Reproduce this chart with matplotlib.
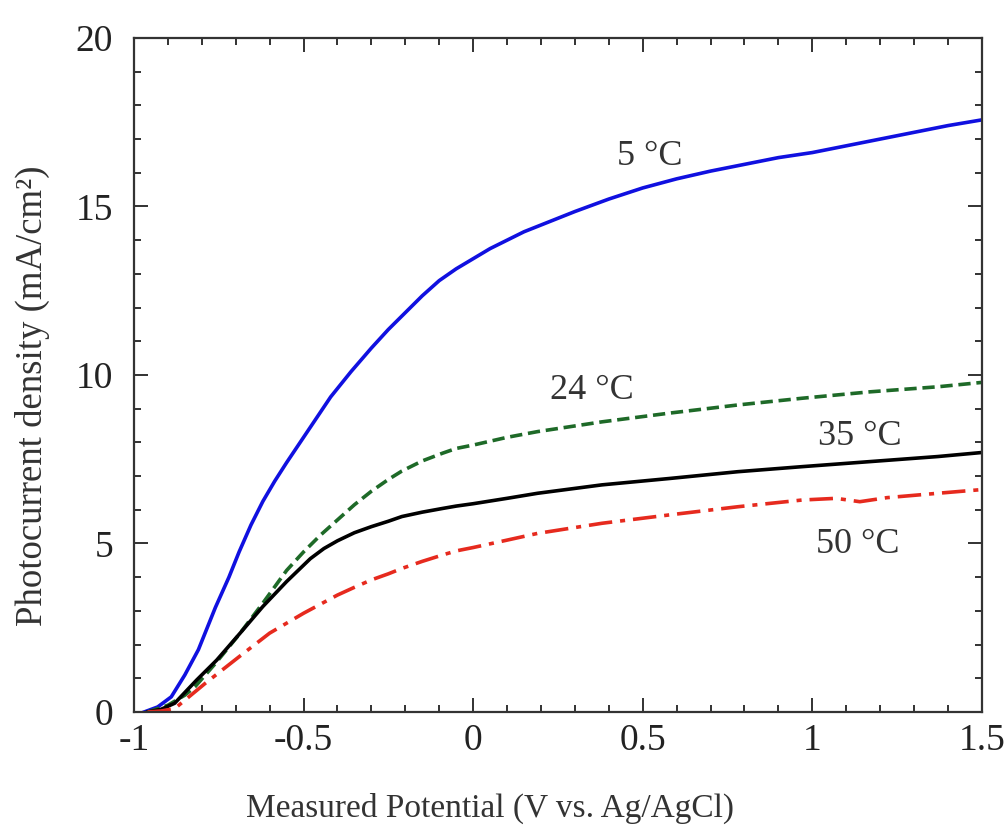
import matplotlib
matplotlib.use("Agg")
import matplotlib.pyplot as plt
from matplotlib.ticker import MultipleLocator

plt.rcParams['font.family'] = ['Liberation Serif', 'DejaVu Serif']
plt.rcParams['axes.unicode_minus'] = False

# ---- data ----
x_5C = [-0.97, -0.93, -0.89, -0.85, -0.81, -0.76, -0.72, -0.69, -0.655, -0.62, -0.585, -0.55, -0.48, -0.42, -0.36, -0.30,
        -0.25, -0.20, -0.15, -0.10, -0.05, 0.0, 0.05, 0.1, 0.15, 0.2, 0.3, 0.4, 0.5, 0.6, 0.7, 0.8, 0.9,
        1.0, 1.1, 1.2, 1.3, 1.4, 1.5]
y_5C = [0.0, 0.15, 0.45, 1.1, 1.85, 3.1, 4.0, 4.75, 5.55, 6.25, 6.85, 7.4, 8.45, 9.35, 10.1, 10.8,
        11.35, 11.85, 12.35, 12.8, 13.15, 13.45, 13.75, 14.0, 14.25, 14.45, 14.85, 15.22, 15.55, 15.82, 16.05, 16.25, 16.45,
        16.6, 16.8, 17.0, 17.2, 17.4, 17.57]

x_24C = [-0.96, -0.9, -0.85, -0.82, -0.76, -0.69, -0.62, -0.55, -0.50, -0.45, -0.40, -0.35, -0.30, -0.25,
         -0.21, -0.15, -0.09, -0.05, 0.0, 0.1, 0.19, 0.38, 0.58, 0.78, 0.97, 1.17, 1.37, 1.5]
y_24C = [0.0, 0.2, 0.5, 0.75, 1.44, 2.3, 3.23, 4.2, 4.75, 5.25, 5.7, 6.15, 6.55, 6.9,
         7.15, 7.45, 7.68, 7.82, 7.92, 8.15, 8.32, 8.61, 8.87, 9.11, 9.31, 9.5, 9.65, 9.78]

x_35C = [-0.96, -0.92, -0.88, -0.815, -0.756, -0.687, -0.62, -0.55, -0.48, -0.44, -0.40, -0.35, -0.30, -0.25,
         -0.21, -0.15, -0.09, -0.05, 0.0, 0.1, 0.19, 0.38, 0.58, 0.78, 0.97, 1.17, 1.37, 1.5]
y_35C = [0.0, 0.08, 0.26, 0.95, 1.54, 2.34, 3.13, 3.87, 4.55, 4.85, 5.08, 5.32, 5.5, 5.66,
         5.8, 5.93, 6.04, 6.11, 6.18, 6.34, 6.49, 6.74, 6.93, 7.13, 7.28, 7.43, 7.58, 7.7]

x_50C = [-0.96, -0.92, -0.88, -0.79, -0.69, -0.60, -0.50, -0.45, -0.40, -0.35, -0.30, -0.25, -0.21,
         -0.15, -0.09, -0.05, 0.0, 0.1, 0.19, 0.38, 0.58, 0.78, 0.97, 1.07, 1.14, 1.22, 1.37, 1.5]
y_50C = [0.0, 0.03, 0.1, 0.85, 1.64, 2.34, 2.93, 3.2, 3.47, 3.7, 3.92, 4.1, 4.26,
         4.47, 4.66, 4.78, 4.88, 5.1, 5.3, 5.6, 5.85, 6.09, 6.29, 6.34, 6.24, 6.36, 6.49, 6.6]

labels = ["5 °C", "24 °C", "35 °C", "50 °C"]
label_x = [0.52, 0.35, 1.14, 1.135]
label_y = [16.47, 9.55, 8.16, 4.98]

xtick_vals = [-1, -0.5, 0, 0.5, 1, 1.5]
xtick_labels = ["-1", "-0.5", "0", "0.5", "1", "1.5"]
ytick_vals = [0, 5, 10, 15, 20]
ytick_labels = ["0", "5", "10", "15", "20"]

# ---- figure ----
fig = plt.figure(figsize=(10.05, 8.31), dpi=100)
ax = fig.add_axes([0.1333, 0.1432, 0.8437, 0.8111])

lw = 2.6
ax.plot(x_5C, y_5C, color='#1010e0', lw=lw)
ax.plot(x_24C, y_24C, color='#1e6a28', lw=lw, dashes=(3.4, 1.6))
ax.plot(x_35C, y_35C, color='black', lw=lw)
ax.plot(x_50C, y_50C, color='#e62a1e', lw=lw, dashes=(6.5, 2.2, 1.4, 2.2))

text_color = '#333333'
for t, tx, ty in zip(labels, label_x, label_y):
    ax.text(tx, ty, t, fontsize=26, ha='center', va='center', color=text_color)

ax.set_xlim(-1, 1.5)
ax.set_ylim(0, 20)
ax.set_xticks(xtick_vals)
ax.set_xticklabels(xtick_labels)
ax.set_yticks(ytick_vals)
ax.set_yticklabels(ytick_labels)
ax.xaxis.set_minor_locator(MultipleLocator(0.1))
ax.yaxis.set_minor_locator(MultipleLocator(1))
ax.tick_params(which='both', direction='in', top=True, right=True, width=1.3, colors='#222222',
               labelsize=27, labelcolor='#222222')
ax.tick_params(which='major', length=10)
ax.tick_params(which='minor', length=5)
ax.tick_params(axis='y', which='major', pad=15)
ax.tick_params(axis='x', which='major', pad=8)
for s in ax.spines.values():
    s.set_linewidth(1.6)
    s.set_color('#333333')

ax.set_xlabel("Measured Potential (V vs. Ag/AgCl)", fontsize=24, color=text_color)
ax.set_ylabel("Photocurrent density (mA/cm²)", fontsize=26.5, color=text_color)
ax.xaxis.set_label_coords(0.42, -0.12)
ax.yaxis.set_label_coords(-0.099, 0.469)

fig.savefig("out.png", dpi=100, facecolor='white')
